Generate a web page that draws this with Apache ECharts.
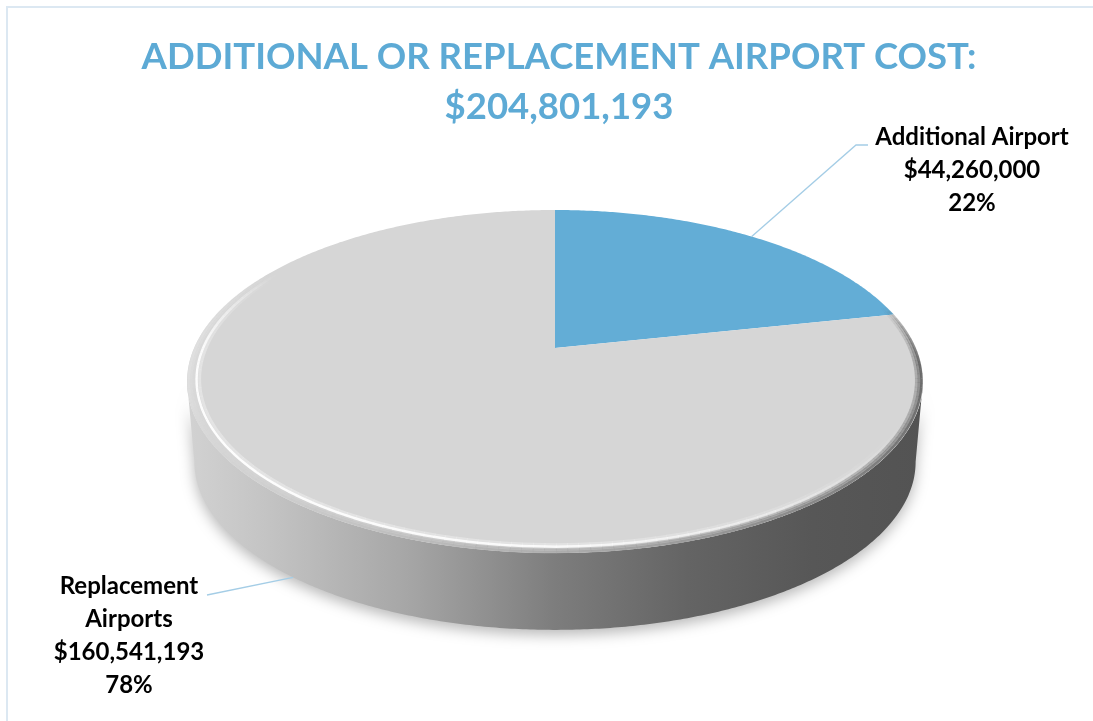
<!DOCTYPE html>
<html><head><meta charset="utf-8">
<script src="https://cdn.jsdelivr.net/npm/echarts@6/dist/echarts.min.js"></script>
<style>html,body{margin:0;padding:0;background:#fff}#c{width:1093px;height:721px}</style>
</head><body><div id="c"></div>
<script>
const categories = ['Additional Airport', 'Replacement Airports'];
const labelNames = ['Additional Airport', 'Replacement\nAirports'];
const values = [44260000, 160541193];
const titleLines = ['ADDITIONAL OR REPLACEMENT AIRPORT COST:', '$204,801,193'];
const sliceColors = ['#63ADD6', '#D6D6D6'];

const total = values.reduce((a, b) => a + b, 0);
// perspective geometry of the tilted disk (layout only)
const G = { cx: 555, cy: 348, A: 360.9, B: 164.95, k: 0.1953, s: 0.98, dy: 81 };
const TAU = Math.PI * 2;
const DEG = Math.PI / 180;
function P(theta, r, bottom) {
  const u = r * Math.sin(theta), v = r * Math.cos(theta);
  const den = 1 + G.k * v;
  const sc = bottom ? G.s : 1;
  return [G.cx + sc * G.A * u / den, G.cy - sc * G.B * v / den + (bottom ? G.dy : 0)];
}
function arc(a0, a1, r, bottom) {
  const pts = [];
  const n = Math.max(2, Math.ceil(Math.abs(a1 - a0) / (Math.PI / 360)));
  for (let j = 0; j <= n; j++) pts.push(P(a0 + (a1 - a0) * j / n, r, bottom));
  return pts;
}
const visA = Math.acos(-G.k), visB = TAU - Math.acos(-G.k);
const xL = G.cx - 368, xR = G.cx + 368;

const labelLayout = [
  { x: 972, y: 170, line: a => [a, [856, 145], [868, 145]] },
  { x: 129, y: 636, line: a => [a, [207, 595]] }
];

function fmt(v) { return '$' + v.toLocaleString('en-US'); }
function lerp(a, b, t) { return a + (b - a) * t; }
function piece(x, xs, ys) {
  if (x <= xs[0]) return ys[0];
  for (let j = 1; j < xs.length; j++) {
    if (x <= xs[j]) return lerp(ys[j - 1], ys[j], (x - xs[j - 1]) / (xs[j] - xs[j - 1]));
  }
  return ys[ys.length - 1];
}
// bevel look as a function of angle (degrees, clockwise from back)
function edgeStyle(d) {
  const g = piece(d, [75, 110, 150, 180, 220, 260, 300], [85, 95, 135, 170, 205, 225, 225]);
  const a = piece(d, [75, 95, 270, 300], [0, 0.95, 0.95, 0]);
  return 'rgba(' + [g, g, g].map(Math.round).join(',') + ',' + a.toFixed(3) + ')';
}
function hiStyle(d) {
  const a = piece(d, [115, 150, 180, 230, 270, 300], [0, 0.45, 0.85, 0.95, 0.9, 0]);
  return 'rgba(255,255,255,' + a.toFixed(3) + ')';
}

function renderItem(params, api) {
  const i = params.dataIndex;
  let before = 0;
  for (let j = 0; j < i; j++) before += values[j];
  const a0 = before / total * TAU;
  const a1 = (before + api.value(0)) / total * TAU;
  const children = [];
  // side wall (front, visible part)
  const s0 = Math.max(a0, visA), s1 = Math.min(a1, visB);
  if (s1 > s0) {
    const top = arc(s0, s1, 1, false);
    const bot = arc(s1, s0, 1, true);
    children.push({
      type: 'polygon', z2: 1,
      shape: { points: top.concat(bot) },
      style: {
        fill: new echarts.graphic.LinearGradient(xL, 0, xR, 0, [
          { offset: 0, color: '#d2d2d2' },
          { offset: 0.12, color: '#c2c2c2' },
          { offset: 0.3, color: '#a6a6a6' },
          { offset: 0.5, color: '#7d7d7d' },
          { offset: 0.68, color: '#646464' },
          { offset: 0.85, color: '#575757' },
          { offset: 1, color: '#535353' }
        ], true),
        shadowBlur: 14, shadowColor: 'rgba(0,0,0,0.28)', shadowOffsetY: 5
      }
    });
  }
  // top face
  children.push({
    type: 'polygon', z2: 10,
    shape: { points: [P(0, 0, false)].concat(arc(a0, a1, 1, false)) },
    style: { fill: sliceColors[i] }
  });
  // soft bevel on the top edge, built from short segments
  const b0 = Math.max(a0, 75 * DEG), b1 = Math.min(a1, 300 * DEG);
  if (b1 > b0) {
    const step = 1.5 * DEG;
    for (let t = b0; t < b1; t += step) {
      const te = Math.min(b1, t + step * 1.05);
      const d = (t + te) / 2 / DEG;
      [[0.996, 2.5, 0.9], [0.99, 3, 0.6], [0.983, 3, 0.35]].forEach(([r, w, al], q) => {
        children.push({
          type: 'line', z2: 11 + q, silent: true,
          shape: { x1: P(t, r)[0], y1: P(t, r)[1], x2: P(te, r)[0], y2: P(te, r)[1] },
          style: { stroke: edgeStyle(d), lineWidth: w, opacity: al }
        });
      });
      const p1 = P(t, 0.975), p2 = P(te, 0.975);
      children.push({
        type: 'line', z2: 15, silent: true,
        shape: { x1: p1[0], y1: p1[1], x2: p2[0], y2: p2[1] },
        style: { stroke: hiStyle(d), lineWidth: 2.5 }
      });
      const p3 = P(t, 0.967), p4 = P(te, 0.967);
      children.push({
        type: 'line', z2: 14, silent: true,
        shape: { x1: p3[0], y1: p3[1], x2: p4[0], y2: p4[1] },
        style: { stroke: hiStyle(d), lineWidth: 3, opacity: 0.35 }
      });
    }
  }
  // leader line and label
  const mid = (a0 + a1) / 2;
  const front = mid > visA && mid < visB;
  const anchor = P(mid, 1, front);
  const L = labelLayout[i];
  children.push({
    type: 'polyline', z2: 20, silent: true,
    shape: { points: L.line(anchor) },
    style: { fill: null, stroke: '#A4CDE6', lineWidth: 1.3 }
  });
  const pct = Math.round(api.value(0) / total * 100) + '%';
  children.push({
    type: 'text', z2: 30,
    style: {
      text: labelNames[i] + '\n' + fmt(api.value(0)) + '\n' + pct,
      x: L.x, y: L.y, align: 'center', verticalAlign: 'middle',
      font: 'bold 24px Lato', lineHeight: 33, fill: '#000'
    }
  });
  return { type: 'group', children };
}

const chart = echarts.init(document.getElementById('c'));
chart.setOption({
  backgroundColor: '#fff',
  animation: false,
  title: {
    text: titleLines.join('\n'),
    left: 554, top: 27, textAlign: 'center',
    textStyle: { fontFamily: 'Lato', fontWeight: 'bold', fontSize: 36.5, lineHeight: 50, color: '#5DAAD5' }
  },
  graphic: [{
    type: 'rect', z: -1, silent: true,
    shape: { x: 7, y: 7, width: 1200, height: 800 },
    style: { fill: null, stroke: '#DCE8F2', lineWidth: 2 }
  }],
  series: [{
    type: 'custom',
    coordinateSystem: 'none',
    renderItem,
    data: values.map((v, i) => ({ name: categories[i], value: [v] }))
  }]
});
</script></body></html>
